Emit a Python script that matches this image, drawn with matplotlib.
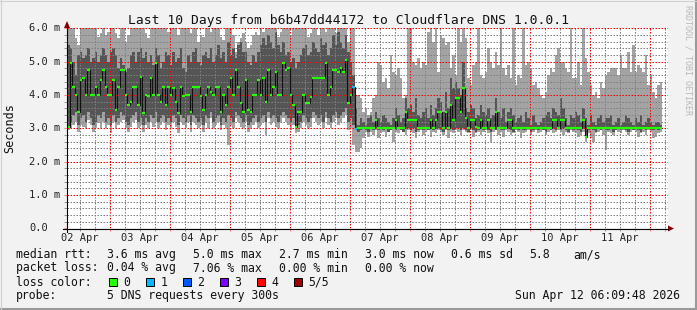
import numpy as np
import matplotlib
matplotlib.use("Agg")
import matplotlib.pyplot as plt
from matplotlib.lines import Line2D
from matplotlib.patches import Polygon, Rectangle
from matplotlib.ticker import MultipleLocator
from matplotlib.transforms import blended_transform_factory

plt.rcParams['font.family'] = ['DejaVu Sans Mono']

# hourly columns, x in hours counted from 02 Apr 00:00
start_hour = 6.8

# median rtt (ms), one value per hour
median = [
    3.05, 4.95, 4.25, 4.0, 3.5, 4.45, 4.5, 4.0, 4.75, 4.0,
    4.0, 4.25, 4.0, 4.45, 4.75, 4.25, 4.0, 4.0, 4.45, 3.55,
    4.25, 4.75, 4.75, 4.0, 3.7, 3.78, 4.25, 4.25, 3.7, 4.55,
    3.45, 4.0, 3.98, 4.5, 4.0, 4.95, 4.0, 3.78, 4.25, 3.7,
    4.25, 4.0, 4.2, 3.78, 3.45, 4.25, 3.98, 4.0, 4.0, 3.48,
    4.25, 4.25, 4.25, 3.98, 3.55, 4.0, 4.25, 4.1, 4.0, 4.25,
    4.25, 3.48, 4.0, 3.7, 4.25, 4.5, 4.0, 4.75, 4.25, 3.75,
    3.5, 4.45, 3.55, 3.5, 4.0, 4.0, 4.45, 4.0, 4.5, 3.78,
    4.75, 4.0, 4.25, 4.7, 4.0, 4.0, 4.97, 4.75, 4.8, 4.0,
    3.7, 3.05, 3.48, 3.48, 4.0, 3.75, 3.75, 3.95, 4.5, 4.5,
    4.5, 4.5, 4.5, 4.97, 4.0, 4.25, 4.75, 4.75, 4.7, 4.8,
    4.7, 5.05, 3.75, 4.0, 4.25, 2.97,
    3.0, 3.0, 3.0, 3.0, 3.0, 3.0, 3.0, 3.25, 3.0, 3.0,
    3.0, 3.0, 3.0, 3.0, 3.0, 3.25, 3.0, 3.0, 3.0, 3.48,
    3.25, 3.25, 3.25, 3.25, 3.0, 3.0, 3.0, 3.0, 3.0, 3.25,
    3.0, 3.25, 3.48, 3.48, 3.0, 3.48, 3.0, 3.7, 3.25, 3.9,
    3.9, 3.5, 4.2, 3.3, 3.0, 3.25, 3.25, 3.05, 3.0, 3.25,
    3.0, 3.0, 3.25, 3.0, 3.0, 3.48, 3.0, 3.0, 3.0, 3.0,
    3.25, 3.25, 3.0, 3.0, 3.0, 3.0, 3.0, 3.0, 3.0, 3.0,
    3.0, 3.0, 3.0, 3.0, 3.0, 3.0, 3.0, 3.0, 3.25, 3.25,
    3.0, 3.25, 3.25, 3.0, 3.0, 3.0, 3.0, 3.0, 3.0, 3.0,
    3.25, 2.75, 3.0, 3.0, 3.0, 3.0, 3.0, 3.0, 3.0, 3.0,
    3.0, 3.0, 3.0, 3.0, 3.0, 3.0, 3.0, 3.0, 3.0, 3.0,
    3.0, 3.0, 3.0, 3.0, 3.0, 3.0, 3.0, 3.0, 3.0, 3.0,
    3.0, 3.0,
]

# lost pings per hour (index into loss_colors)
loss = [0] * 114 + [1, 1] + [0] * 122

# smoke: outer band (min .. max ping) and inner band (2nd .. 4th ping)
smoke_lo = [
    2.95, 3.0, 3.1, 3.2, 2.9, 3.1, 3.05, 3.0, 3.25, 3.1,
    2.9, 3.0, 3.15, 3.0, 3.2, 3.0, 3.1, 2.85, 3.2, 3.0,
    3.1, 3.2, 3.25, 3.0, 2.9, 3.05, 3.2, 3.25, 3.0, 3.1,
    2.9, 3.1, 3.0, 3.2, 3.05, 3.2, 3.0, 3.1, 3.2, 2.95,
    3.1, 3.0, 3.2, 3.05, 2.85, 3.2, 3.1, 3.0, 3.2, 2.9,
    3.2, 3.1, 3.0, 3.1, 2.9, 3.2, 3.0, 3.3, 3.0, 3.1,
    3.2, 2.95, 3.1, 3.0, 2.5, 3.1, 3.0, 3.3, 3.2, 3.05,
    3.0, 3.2, 2.9, 3.0, 3.1, 3.2, 3.0, 3.1, 3.2, 2.8,
    3.3, 3.1, 3.2, 3.05, 3.0, 3.2, 3.3, 3.2, 3.1, 2.95,
    3.1, 2.85, 2.9, 3.0, 3.2, 3.1, 3.0, 3.05, 3.3, 3.2,
    3.1, 3.2, 3.0, 3.3, 3.1, 3.0, 3.2, 3.3, 3.1, 3.2,
    3.3, 3.4, 2.95, 3.0, 2.5, 2.3,
    2.3, 2.4, 2.7, 2.9, 2.75, 2.9, 2.8, 2.95, 2.7, 2.85,
    2.9, 2.75, 2.9, 2.95, 2.6, 2.9, 2.85, 2.95, 2.9, 2.8,
    2.95, 2.9, 2.85, 2.7, 2.9, 2.95, 2.8, 2.9, 2.95, 2.75,
    2.9, 2.85, 2.95, 2.9, 2.8, 2.95, 2.7, 2.9, 2.85, 2.95,
    2.9, 2.8, 2.95, 2.9, 2.85, 2.95, 2.75, 2.85, 2.9, 2.8,
    2.9, 2.95, 2.85, 2.6, 2.9, 2.95, 2.8, 2.9, 2.75, 2.95,
    2.9, 2.8, 2.85, 2.95, 2.9, 2.7, 2.85, 2.9, 2.95, 2.8,
    2.9, 2.95, 2.85, 2.9, 2.95, 2.8, 2.9, 2.95, 2.85, 2.9,
    2.95, 2.9, 2.8, 2.9, 2.85, 2.95, 2.9, 2.85, 2.75, 2.8,
    2.9, 2.6, 2.85, 2.7, 2.6, 2.85, 2.9, 2.95, 2.8, 2.35,
    2.9, 2.85, 2.8, 2.95, 2.9, 2.85, 2.95, 2.9, 2.8, 2.9,
    2.95, 2.9, 2.75, 2.85, 2.9, 2.8, 2.95, 2.9, 2.7, 2.75,
    2.85, 2.9,
]

smoke_hi = [
    6.3, 6.3, 6.3, 5.7, 5.5, 6.3, 6.3, 6.3, 6.3, 6.3,
    6.3, 6.3, 5.75, 5.85, 6.3, 5.8, 5.9, 6.3, 6.3, 5.85,
    5.7, 6.3, 6.3, 5.6, 5.8, 6.3, 6.3, 6.3, 6.3, 6.3,
    6.3, 5.85, 5.7, 6.3, 6.3, 6.3, 6.3, 6.3, 6.3, 6.3,
    5.9, 6.3, 6.3, 6.3, 5.8, 6.3, 6.3, 6.3, 6.3, 5.85,
    6.3, 6.3, 5.6, 5.8, 5.75, 6.3, 6.3, 5.9, 6.3, 6.3,
    6.3, 5.75, 5.65, 6.3, 6.3, 6.3, 5.8, 5.3, 5.6, 5.7,
    5.85, 5.6, 5.4, 5.5, 5.8, 5.9, 5.8, 6.3, 5.9, 6.3,
    6.3, 6.3, 6.3, 6.3, 5.75, 5.9, 6.3, 6.3, 6.3, 5.8,
    6.3, 6.3, 6.3, 6.3, 6.3, 6.3, 5.75, 5.85, 6.3, 6.3,
    5.8, 6.3, 6.3, 5.9, 6.3, 6.3, 6.3, 5.85, 6.3, 6.3,
    6.3, 6.3, 5.6, 6.3, 6.3, 4.0,
    4.0, 3.9, 3.5, 3.6, 3.4, 3.5, 3.9, 4.0, 5.0, 4.9,
    4.4, 4.5, 4.2, 5.2, 4.7, 4.6, 4.8, 4.5, 3.9, 4.0,
    6.0, 6.3, 5.0, 4.9, 5.1, 4.8, 5.0, 4.9, 5.9, 6.3,
    5.6, 6.3, 4.7, 5.8, 5.7, 5.5, 5.6, 4.8, 5.2, 4.6,
    6.3, 5.6, 6.0, 5.7, 4.5, 4.3, 4.9, 5.0, 6.3, 4.6,
    4.5, 4.7, 5.4, 5.0, 4.8, 5.3, 4.9, 6.3, 4.8, 4.6,
    4.9, 4.5, 6.3, 4.3, 4.6, 4.5, 6.3, 4.9, 5.0, 4.8,
    4.3, 4.4, 4.2, 4.0, 3.9, 4.1, 4.6, 4.8, 4.7, 5.2,
    5.4, 5.0, 5.0, 4.8, 4.7, 6.3, 4.5, 4.5, 5.0, 4.3,
    6.3, 5.1, 4.7, 4.3, 4.0, 4.1, 3.9, 4.4, 4.2, 4.6,
    4.7, 4.8, 4.8, 4.8, 4.6, 5.2, 4.8, 4.8, 5.3, 4.7,
    5.5, 4.7, 4.9, 4.8, 4.7, 5.2, 4.3, 4.6, 4.1, 3.9,
    4.3, 4.4,
]

inner_lo = [
    3.0, 3.2, 3.4, 3.5, 3.1, 3.3, 3.4, 3.2, 3.5, 3.3,
    3.1, 3.2, 3.4, 3.3, 3.5, 3.2, 3.3, 3.1, 3.4, 3.2,
    3.3, 3.5, 3.4, 3.2, 3.1, 3.3, 3.4, 3.5, 3.2, 3.3,
    3.1, 3.3, 3.2, 3.4, 3.3, 3.5, 3.2, 3.3, 3.4, 3.2,
    3.3, 3.2, 3.4, 3.3, 3.1, 3.4, 3.3, 3.2, 3.4, 3.1,
    3.4, 3.3, 3.2, 3.3, 3.1, 3.4, 3.3, 3.5, 3.2, 3.3,
    3.4, 3.1, 3.3, 3.2, 3.4, 3.3, 3.2, 3.5, 3.4, 3.3,
    3.2, 3.4, 3.1, 3.2, 3.3, 3.4, 3.2, 3.3, 3.4, 3.2,
    3.5, 3.3, 3.4, 3.3, 3.2, 3.4, 3.5, 3.4, 3.3, 3.2,
    3.3, 3.0, 3.1, 3.2, 3.4, 3.3, 3.2, 3.3, 3.5, 3.4,
    3.3, 3.4, 3.2, 3.5, 3.3, 3.2, 3.4, 3.5, 3.3, 3.4,
    3.5, 3.6, 3.2, 3.3, 3.1, 2.95,
    2.9, 2.95, 3.0, 2.95, 2.9, 3.0, 2.95, 3.0, 2.95, 3.0,
    2.95, 3.0, 2.9, 2.95, 3.0, 2.95, 3.0, 2.95, 2.9, 3.0,
    3.0, 2.95, 3.0, 2.9, 2.95, 3.0, 2.95, 3.0, 2.95, 3.0,
    2.95, 3.0, 3.0, 2.95, 2.9, 3.0, 2.95, 3.0, 2.95, 3.0,
    3.0, 2.95, 3.0, 2.95, 2.9, 3.0, 2.95, 2.9, 2.95, 3.0,
    2.95, 3.0, 2.95, 2.9, 3.0, 2.95, 3.0, 2.95, 2.95, 3.0,
    3.0, 2.95, 2.9, 3.0, 2.95, 3.0, 2.95, 2.95, 3.0, 2.9,
    2.95, 3.0, 2.95, 3.0, 2.95, 2.9, 3.0, 2.95, 3.0, 2.95,
    3.0, 2.95, 3.0, 2.95, 2.9, 3.0, 2.95, 3.0, 2.95, 2.9,
    3.0, 2.7, 2.95, 3.0, 2.95, 2.9, 3.0, 2.95, 3.0, 2.95,
    2.95, 3.0, 2.9, 2.95, 3.0, 2.95, 3.0, 2.95, 2.9, 3.0,
    2.95, 3.0, 2.95, 2.9, 3.0, 2.95, 3.0, 2.95, 2.95, 3.0,
    2.95, 3.0,
]

inner_hi = [
    5.5, 5.4, 5.0, 4.6, 5.2, 5.3, 5.1, 5.2, 5.4, 5.0,
    5.1, 5.3, 5.0, 5.2, 5.4, 5.2, 5.0, 5.3, 5.4, 5.2,
    4.8, 5.1, 4.9, 4.7, 4.8, 5.2, 5.3, 5.0, 5.3, 5.4,
    5.1, 5.3, 5.0, 5.2, 4.9, 5.4, 5.2, 4.8, 5.0, 5.3,
    5.2, 4.9, 5.3, 5.0, 5.1, 5.4, 4.8, 4.7, 5.2, 5.0,
    5.3, 5.4, 5.0, 4.9, 5.2, 5.3, 5.1, 5.4, 5.0, 5.2,
    5.5, 5.1, 5.3, 5.0, 5.6, 5.2, 5.4, 5.1, 5.5, 5.6,
    5.3, 5.3, 5.0, 4.9, 5.2, 5.0, 5.3, 5.5, 5.7, 5.5,
    5.8, 5.6, 5.4, 5.9, 5.5, 5.3, 5.6, 5.2, 5.3, 5.0,
    5.1, 4.8, 5.0, 5.2, 5.4, 5.5, 5.2, 5.3, 5.6, 5.4,
    5.3, 5.7, 5.5, 5.6, 5.2, 5.4, 5.8, 5.5, 5.9, 5.6,
    5.4, 5.8, 5.3, 5.0, 4.6, 3.6,
    3.1, 3.3, 3.2, 3.1, 3.3, 3.4, 3.2, 3.5, 3.3, 3.2,
    3.4, 3.3, 3.2, 3.1, 3.3, 3.6, 3.4, 3.2, 3.3, 3.9,
    3.6, 3.7, 3.5, 3.9, 3.4, 3.3, 3.5, 3.6, 3.3, 3.7,
    3.4, 3.6, 3.9, 3.8, 3.5, 4.1, 3.6, 4.5, 4.2, 4.4,
    4.2, 4.0, 5.0, 3.6, 3.5, 3.7, 3.6, 3.3, 3.4, 3.7,
    3.5, 3.4, 3.6, 3.3, 3.4, 3.9, 3.5, 3.3, 3.6, 3.2,
    3.5, 3.6, 3.4, 3.2, 3.3, 3.4, 3.2, 3.5, 3.3, 3.1,
    3.4, 3.2, 3.1, 3.2, 3.3, 3.4, 3.5, 3.3, 3.6, 3.5,
    3.4, 3.9, 3.6, 3.3, 3.1, 3.4, 3.3, 3.5, 3.4, 3.2,
    3.6, 3.3, 3.1, 3.4, 3.2, 3.1, 3.3, 3.4, 3.2, 3.3,
    3.3, 3.4, 3.1, 3.2, 3.3, 3.1, 3.2, 3.4, 3.3, 3.2,
    3.1, 3.3, 3.2, 3.4, 3.1, 3.2, 3.3, 3.2, 3.1, 3.2,
    3.2, 3.1,
]

loss_colors = ['#26ff00', '#00b8ff', '#0059ff', '#7e00ff', '#ff0000', '#a10000']
loss_labels = ['0', '1', '2', '3', '4', '5/5']

day_labels = ['02 Apr', '03 Apr', '04 Apr', '05 Apr', '06 Apr',
              '07 Apr', '08 Apr', '09 Apr', '10 Apr', '11 Apr']
y_ticks = [0, 1, 2, 3, 4, 5, 6]
y_labels = ['0.0', '1.0 m', '2.0 m', '3.0 m', '4.0 m', '5.0 m', '6.0 m']

rtt_stats = ['3.6 ms avg', '5.0 ms max', '2.7 ms min', '3.0 ms now', '0.6 ms sd']
loss_stats = ['0.04 % avg', '7.06 % max', '0.00 % min', '0.00 % now']

W, H = 697, 310


def fx(x):
    return x / W


def fy(y):
    return 1 - y / H


fig = plt.figure(figsize=(W / 100, H / 100), dpi=100, facecolor='#f2f2f2')
ax = fig.add_axes([fx(67), fy(228.3), (668 - 67) / W, 200 / H])
ax.set_facecolor('white')

edges = start_hour + np.arange(len(median) + 1)

# smoke
ax.stairs(smoke_hi, edges, baseline=smoke_lo, fill=True, color='#a3a3a3', lw=0, zorder=1)
ax.stairs(inner_hi, edges, baseline=inner_lo, fill=True, color='#555555', lw=0, zorder=1.1)

# median line
ax.stairs(median, edges, baseline=None, color='#111111', lw=0.8, zorder=3)
ax.hlines(median, edges[:-1], edges[1:], colors=[loss_colors[l] for l in loss],
          lw=1.6, zorder=3.1)

ax.set_xlim(start_hour, 247.2)
ax.set_ylim(0, 6.0)

# dotted grid, drawn over the smoke
ax.xaxis.set_major_locator(MultipleLocator(24))
ax.xaxis.set_minor_locator(MultipleLocator(6))
ax.yaxis.set_major_locator(MultipleLocator(1))
ax.yaxis.set_minor_locator(MultipleLocator(0.2))
ax.set_axisbelow(False)
ax.grid(which='minor', color=(0.5, 0.5, 0.5, 0.35), ls=(0, (1.5, 1.5)), lw=0.72)
ax.grid(which='major', color=(1, 0, 0, 0.32), ls=(0, (1.5, 1.5)), lw=0.72)
ax.tick_params(which='both', direction='out', length=2, width=0.72,
               labelleft=False, labelbottom=False)
ax.tick_params(which='major', color='#ff8080')
ax.tick_params(which='minor', color='#999999')
for s in ax.spines.values():
    s.set_visible(False)

# axes lines with arrows
fig.add_artist(Line2D([fx(63), fx(668)], [fy(228.5), fy(228.5)], color='black', lw=0.8))
fig.add_artist(Line2D([fx(67), fx(67)], [fy(232), fy(24)], color='black', lw=0.8))
fig.add_artist(Polygon([(fx(668), fy(225.5)), (fx(674), fy(228.5)), (fx(668), fy(231.5))],
                       closed=True, color='#8b0000', lw=0))
fig.add_artist(Polygon([(fx(64), fy(28)), (fx(67), fy(21)), (fx(70), fy(28))],
                       closed=True, color='#8b0000', lw=0))

# y tick labels
ytrans = blended_transform_factory(fig.transFigure, ax.transData)
for v, lab in zip(y_ticks, y_labels):
    ax.text(fx(29), v, lab, transform=ytrans, ha='left', va='center', fontsize=7.5,
            color='#222222')

# x day labels at noon
xtrans = blended_transform_factory(ax.transData, fig.transFigure)
for i, lab in enumerate(day_labels):
    ax.text(12 + 24 * i, fy(233), lab, transform=xtrans, ha='center', va='top',
            fontsize=7.5, color='#222222')

# title and side texts
fig.text(fx(348), fy(24), 'Last 10 Days from b6b47dd44172 to Cloudflare DNS 1.0.0.1',
         ha='center', va='baseline', fontsize=9.4, color='#111111')
fig.text(fx(10), fy(128), 'Seconds', rotation=90, ha='center', va='center',
         fontsize=8.5, color='#111111')
fig.text(fx(688), fy(5), 'RRDTOOL / TOBI OETIKER', rotation=270, ha='center', va='top',
         fontsize=6, color='#b8b8b8')

# legend block
lf = dict(fontsize=8.3, color='#111111', va='baseline', ha='left')
fig.text(fx(16), fy(258), 'median rtt:', **lf)
for i, s in enumerate(rtt_stats):
    fig.text(fx(107 + 86 * i), fy(258), s, **lf)
fig.text(fx(529), fy(258), '5.8', **lf)
fig.text(fx(573), fy(258), 'am/s', **lf)

fig.text(fx(16), fy(271.5), 'packet loss:', **lf)
for i, s in enumerate(loss_stats):
    fig.text(fx(107 + 86 * i), fy(271.5), s, **lf)

fig.text(fx(16), fy(285.5), 'loss color:', **lf)
for i, (c, lab) in enumerate(zip(loss_colors, loss_labels)):
    x0 = 108.7 + 37 * i
    fig.add_artist(Rectangle((fx(x0), fy(286.3)), 8 / W, 8.6 / H, transform=fig.transFigure,
                             facecolor=c, edgecolor='black', lw=0.7))
    fig.text(fx(x0 + 14.5), fy(285.5), lab, **lf)

fig.text(fx(16), fy(299), 'probe:', **lf)
fig.text(fx(107), fy(299), '5 DNS requests every 300s', **lf)
fig.text(fx(680), fy(299), 'Sun Apr 12 06:09:48 2026', fontsize=8.3, color='#111111',
         va='baseline', ha='right')

# frame shading
fig.add_artist(Line2D([0, 1], [fy(309), fy(309)], color='#9a9a9a', lw=1.5))
fig.add_artist(Line2D([fx(696), fx(696)], [0, 1], color='#9a9a9a', lw=1.5))
fig.add_artist(Line2D([0, 1], [fy(0.5), fy(0.5)], color='#d0d0d0', lw=0.8))
fig.add_artist(Line2D([fx(0.5), fx(0.5)], [0, 1], color='#d0d0d0', lw=0.8))

fig.savefig('out.png', dpi=100, facecolor=fig.get_facecolor())
